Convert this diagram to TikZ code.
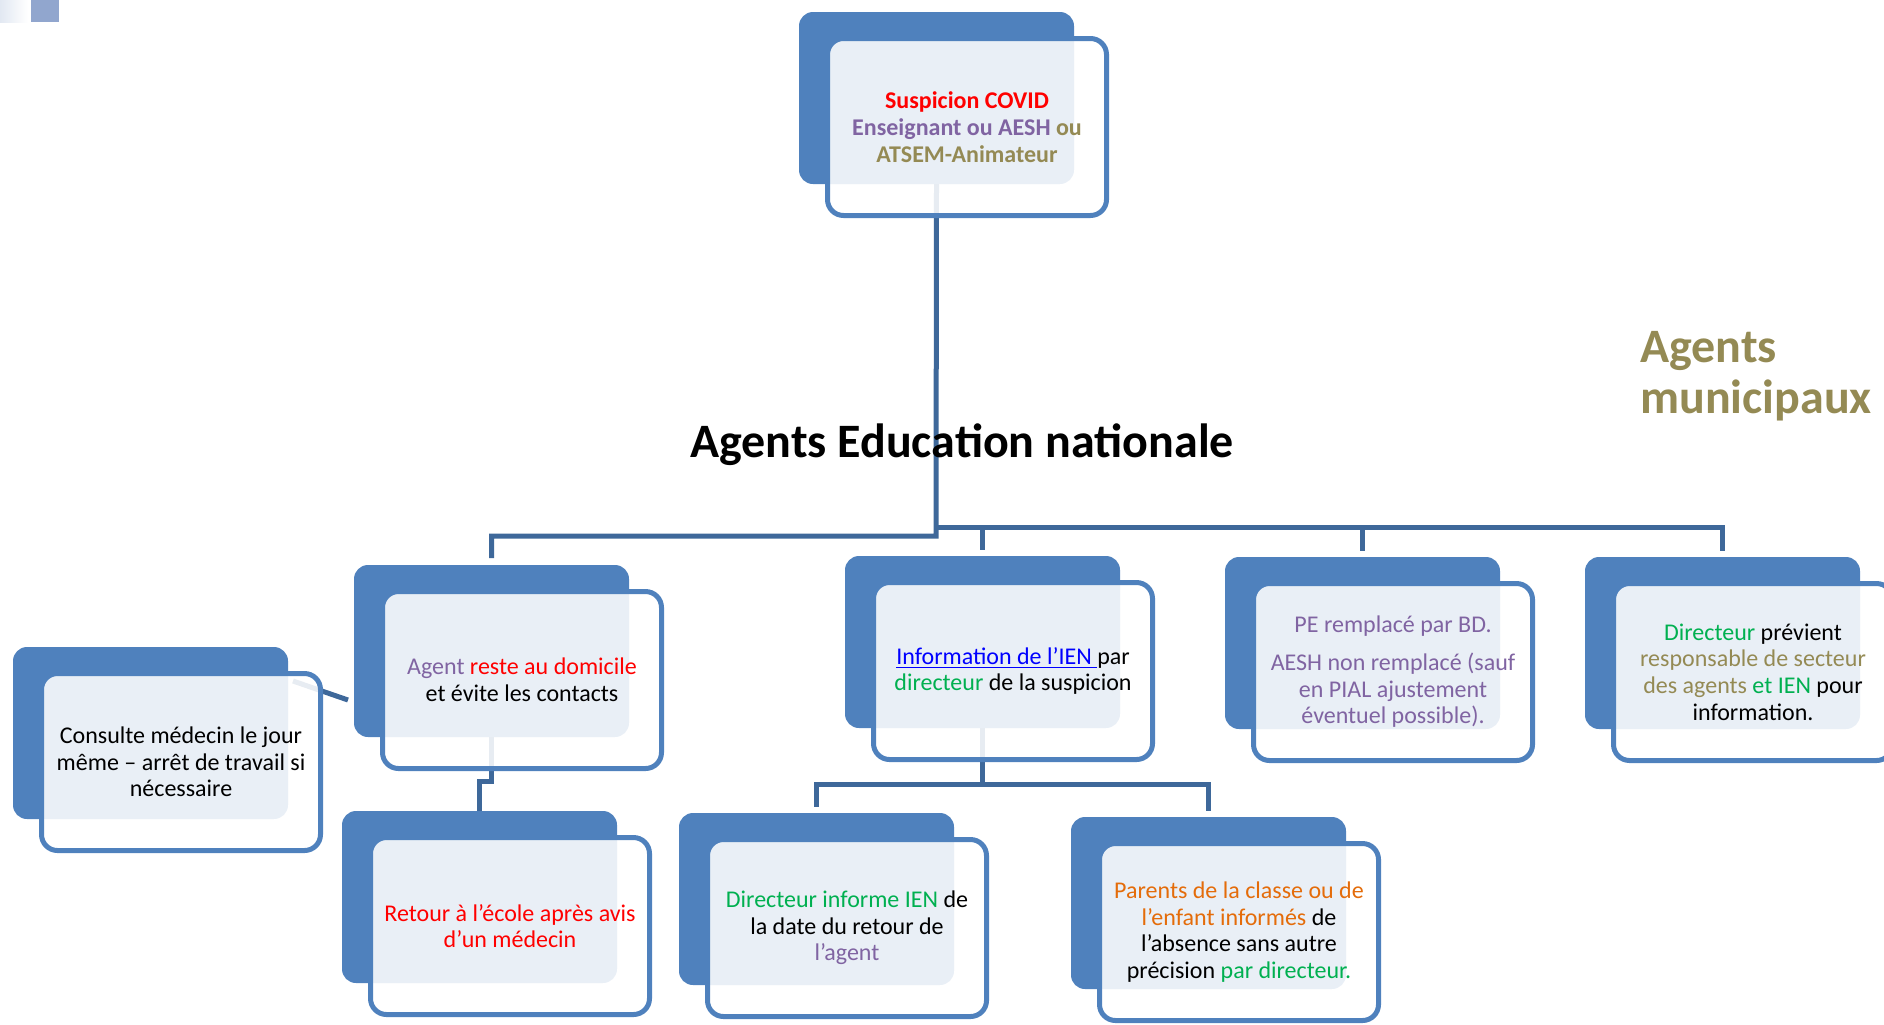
\documentclass[tikz,border=0pt]{standalone}
\usepackage{fontspec}
\setmainfont{Carlito}
\usetikzlibrary{calc}
\definecolor{myred}{HTML}{FF0000}
\definecolor{mypurple}{HTML}{8064A2}
\definecolor{myolive}{HTML}{948A54}
\definecolor{mygreen}{HTML}{00B050}
\definecolor{myorange}{HTML}{E46C0A}
\definecolor{linkblue}{HTML}{0000FF}
\definecolor{darkbox}{HTML}{4F81BD}
\definecolor{framecol}{HTML}{4F81BD}
\definecolor{conncol}{RGB}{62,104,154}
\definecolor{decosq}{RGB}{145,166,206}
\definecolor{decolt}{RGB}{226,232,242}
\newcommand{\boxfont}{\fontsize{12}{13.35}\selectfont}
\tikzset{
  backbox/.style={fill=darkbox, rounded corners=7pt, minimum width=137.5pt, minimum height=86pt, inner sep=0pt, outer sep=0pt},
  frontbox/.style={draw=framecol, line width=2.5pt, fill=white, fill opacity=0.88, draw opacity=1, text opacity=1, rounded corners=8pt, minimum width=139.5pt, minimum height=88.5pt, inner sep=2pt, outer sep=0pt, align=center, font=\boxfont},
  conn/.style={draw=conncol, line width=2.5pt},
}
\begin{document}
\begin{tikzpicture}[x=0.5pt,y=-0.5pt]
\useasboundingbox (0,0) rectangle (1884,1024);
% top-left decoration
\shade[left color=decolt, right color=white] (0,0) rectangle (28,22);
\fill[decosq] (31,0) rectangle (59,22);

% back boxes (dark)
\node[backbox] (topb) at (936.5,98) {};
\node[backbox] (l1b) at (491.5,651) {};
\node[backbox] (m1b) at (982.5,642) {};
\node[backbox] (r1b) at (1362.5,643) {};
\node[backbox] (rr1b) at (1722.5,643) {};
\node[backbox] (consb) at (150.5,733) {};
\node[backbox] (l2b) at (479.5,897) {};
\node[backbox] (m2b) at (816.5,899) {};
\node[backbox] (m3b) at (1208.5,903) {};

% connectors
\coordinate (busL) at (936,536);
\coordinate (busR) at (936,527);
\draw[conn, shorten >=3.5pt] (topb.south) -- (busL) -| (l1b.north);
\draw[conn, shorten >=3pt] (busR) -| (rr1b.north);
\draw[conn, shorten >=3pt] (busR -| m1b.north) -- (m1b.north);
\draw[conn, shorten >=3pt] (busR -| r1b.north) -- (r1b.north);
\draw[conn] (l1b.south) -- ($(l1b.south)+(0,44)$) -| (l2b.north);
\draw[conn, shorten >=3pt] (m1b.south) -- ($(m1b.south)+(0,56)$) -| (m2b.north);
\draw[conn, shorten >=3pt] ($(m1b.south)+(0,56)$) -| (m3b.north);
\draw[conn] ($(consb.north east)+(5,34)$) -- ($(l1b.west)+(-6,49)$);

% front boxes with text
\node[frontbox] (top) at (967,127) {\textbf{\textcolor{myred}{Suspicion COVID}}\\
  \textbf{\textcolor{mypurple}{Enseignant ou AESH} \textcolor{myolive}{ou}}\\
  \textbf{\textcolor{myolive}{ATSEM-Animateur}}};
\node[frontbox] (l1) at (522,680) {\textcolor{mypurple}{Agent} \textcolor{myred}{reste au domicile}\\ et évite les contacts};
\node[frontbox] (m1) at (1013,671) {\textcolor{linkblue}{\underline{Information de l’IEN\ }}par\\ \textcolor{mygreen}{directeur} de la suspicion};
\node[frontbox, text=mypurple] (r1) at (1393,672) {PE remplacé par BD.\\[5.5pt] AESH non remplacé (sauf\\ en PIAL ajustement\\ éventuel possible).};
\node[frontbox] (rr1) at (1753,672) {\textcolor{mygreen}{Directeur} prévient\\ \textcolor{myolive}{responsable de secteur}\\ \textcolor{myolive}{des agents} \textcolor{mygreen}{et IEN} pour\\ information.};
\node[frontbox] (cons) at (181,762) {Consulte médecin le jour\\ même – arrêt de travail si\\ nécessaire};
\node[frontbox, text=myred] (l2) at (510,926) {Retour à l’école après avis\\ d’un médecin};
\node[frontbox] (m2) at (847,928) {\textcolor{mygreen}{Directeur informe IEN} de\\ la date du retour de\\ \textcolor{mypurple}{l’agent}};
\node[frontbox] (m3) at (1239,932) {\textcolor{myorange}{Parents de la classe ou de}\\ \textcolor{myorange}{l’enfant informés} de\\ l’absence sans autre\\ précision \textcolor{mygreen}{par directeur.}};

% titles
\node[anchor=base, font=\fontsize{24}{28}\selectfont\bfseries, inner sep=0pt] (title) at (962,457) {Agents Education nationale};
\node[anchor=base west, align=left, font=\fontsize{24}{25.5}\selectfont\bfseries, text=myolive, inner sep=0pt] (muni) at (1640,413) {Agents\\ municipaux};
\end{tikzpicture}
\end{document}
